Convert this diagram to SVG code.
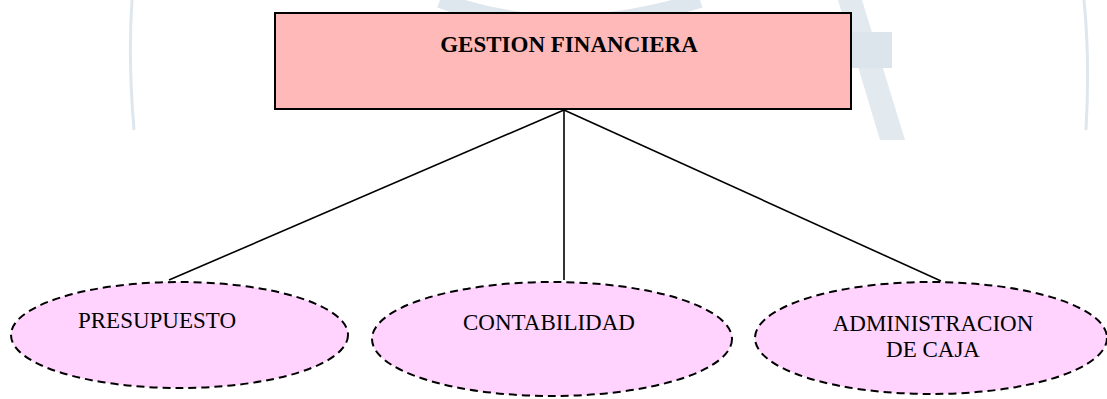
<svg xmlns="http://www.w3.org/2000/svg" width="1107" height="399" viewBox="0 0 1107 399">
<style>
.wm{fill:none;stroke:#dfe7ee}
.root{fill:#ffb9b9;stroke:#000;stroke-width:2}
.leaf{fill:#ffd3fe;stroke:#000;stroke-width:2;stroke-dasharray:8 5}
.lbl{font-family:"Liberation Serif","Times New Roman",serif;font-size:23px;fill:#000;text-anchor:middle}
.b{font-weight:bold}
.conn line{stroke:#000;stroke-width:1.6}
</style>
<rect width="1107" height="399" fill="#fff"/>
<g id="watermark">
<path class="wm" d="M132 0 Q128 60 134 130" stroke-width="3"/>
<path class="wm" d="M1084 0 Q1090 60 1086 130" stroke-width="3"/>
<path class="wm" d="M440 0 Q560 45 700 0" stroke-width="16" stroke="#ccd8e2"/>
<path d="M838 0 L862 0 L905 140 L880 140 Z" fill="#e2e9ef"/>
<rect x="852" y="32" width="40" height="36" fill="#dde5ec"/>
</g>
<g class="conn" id="connectors">
<line x1="564" y1="110" x2="169" y2="280"/>
<line x1="564" y1="110" x2="564" y2="280"/>
<line x1="564" y1="110" x2="941" y2="281"/>
</g>
<g id="gestion">
<rect class="root" x="275" y="13" width="576" height="96"/>
<text class="lbl b" x="569" y="52">GESTION FINANCIERA</text>
</g>
<g id="presupuesto">
<ellipse class="leaf" cx="179.5" cy="335" rx="168.5" ry="53"/>
<text class="lbl" x="157" y="328">PRESUPUESTO</text>
</g>
<g id="contabilidad">
<ellipse class="leaf" cx="552" cy="339" rx="180" ry="57"/>
<text class="lbl" x="549" y="330">CONTABILIDAD</text>
</g>
<g id="caja">
<ellipse class="leaf" cx="931" cy="338" rx="176" ry="56"/>
<text class="lbl" x="933" y="331">ADMINISTRACION</text>
<text class="lbl" x="933" y="357">DE CAJA</text>
</g>
</svg>
